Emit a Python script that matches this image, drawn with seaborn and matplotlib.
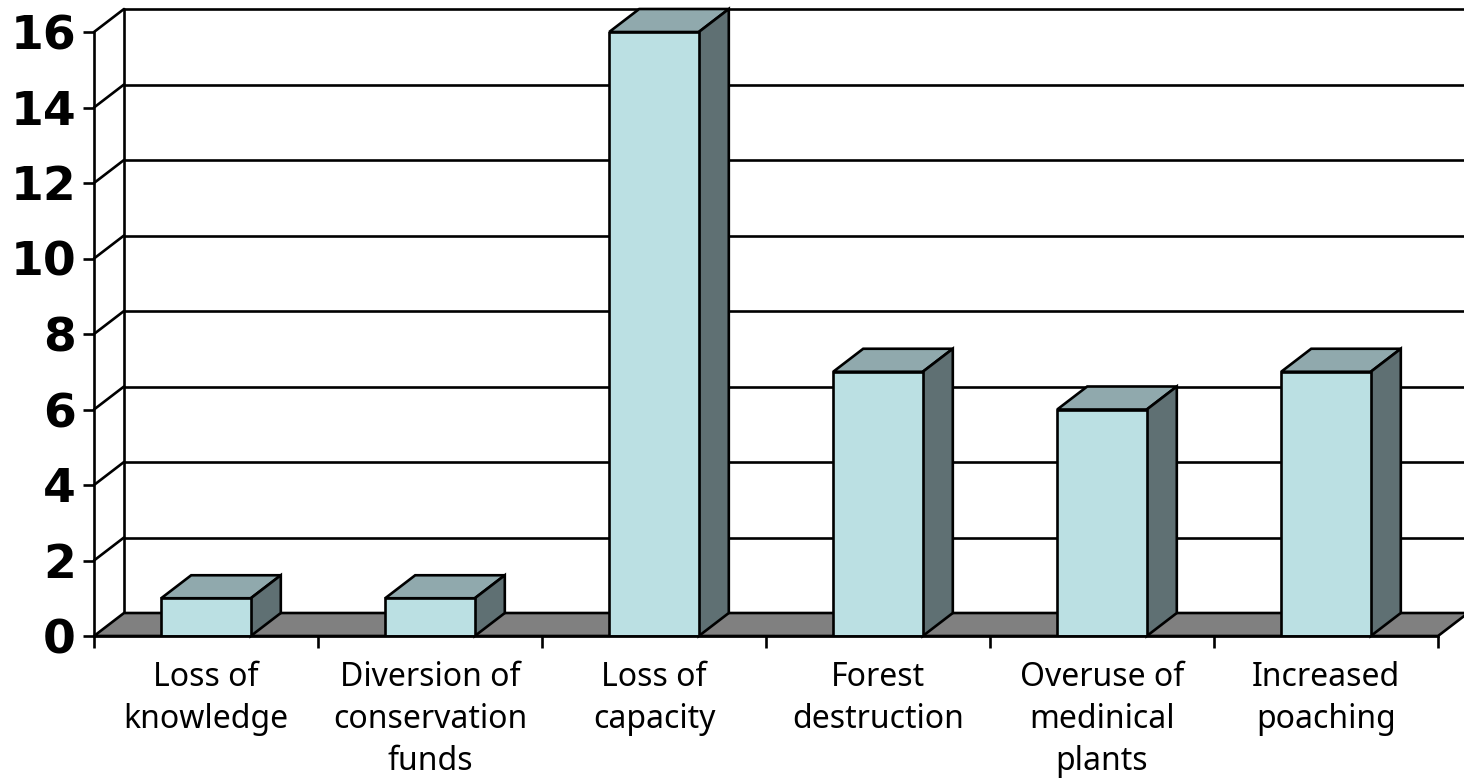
# %% Import Modules
import matplotlib
matplotlib.use('Agg')
import matplotlib.pyplot as plt
from matplotlib.patches import Polygon
import seaborn as sns
import numpy as np

# %% Data
categories = ['Loss of\nknowledge', 'Diversion of\nconservation\nfunds', 'Loss of\ncapacity',
              'Forest\ndestruction', 'Overuse of\nmedinical\nplants', 'Increased\npoaching']
values = [1, 1, 16, 7, 6, 7]
y_ticks = [0, 2, 4, 6, 8, 10, 12, 14, 16]

# %% Style
sns.set_style('white')
plt.rcParams['font.family'] = ['DejaVu Sans']
plt.rcParams['text.color'] = 'black'
plt.rcParams['xtick.color'] = 'black'
plt.rcParams['ytick.color'] = 'black'

FRONT = '#BBE0E3'
TOP = '#90A9AD'
SIDE = '#5F7073'
FLOOR = '#808080'
LW = 1.9
# fake 3D offset, in data units (30 px right, 23 px up)
DX = 30 / 224
DY = 23 / 37.75

W, H = 1464, 778
fig = plt.figure(figsize=(W / 100, H / 100), dpi=100)
ax = fig.add_axes([94 / W, 1 - 636 / H, (1438 - 94) / W, (636 - 32) / H])

# %% Front faces
sns.barplot(x=categories, y=values, color=FRONT, saturation=1, width=0.4,
            edgecolor='black', linewidth=LW, zorder=5, ax=ax)
ax.set_xlim(-0.5, len(categories) - 0.5)
ax.set_ylim(0, 16)
x0, x1 = ax.get_xlim()

# %% Floor, back wall and gridlines
ax.add_patch(Polygon([(x0, 0), (x1, 0), (x1 + DX, DY), (x0 + DX, DY)], closed=True,
                     facecolor=FLOOR, edgecolor='black', linewidth=LW, clip_on=False, zorder=2))
ax.plot([x0 + DX, x0 + DX], [DY, 16 + DY], color='black', lw=LW, clip_on=False, zorder=1)
for v in y_ticks[1:]:
    ax.plot([x0 + DX, x1 + DX], [v + DY, v + DY], color='black', lw=LW, clip_on=False, zorder=1)
    ax.plot([x0, x0 + DX], [v, v + DY], color='black', lw=LW, clip_on=False, zorder=1)

# %% Top and side faces of each bar
for bar in ax.patches[:len(values)]:
    l, w, h = bar.get_x(), bar.get_width(), bar.get_height()
    r = l + w
    ax.add_patch(Polygon([(l, h), (r, h), (r + DX, h + DY), (l + DX, h + DY)], closed=True,
                         facecolor=TOP, edgecolor='black', linewidth=LW, clip_on=False, zorder=4))
    ax.add_patch(Polygon([(r, 0), (r + DX, DY), (r + DX, h + DY), (r, h)], closed=True,
                         facecolor=SIDE, edgecolor='black', linewidth=LW, clip_on=False, zorder=4))

# %% Axes
sns.despine(ax=ax, top=True, right=True)
for s in ['left', 'bottom']:
    ax.spines[s].set_linewidth(LW)
    ax.spines[s].set_color('black')
    ax.spines[s].set_zorder(6)

ax.set_yticks(y_ticks)
ax.set_yticklabels([str(v) for v in y_ticks], fontsize=34, fontweight='bold', color='black')
ax.tick_params(axis='y', which='major', left=True, length=8, width=LW, pad=5, color='black')

# separators as major ticks, labels sit on minor ticks at the bar centres
ax.set_xticks(np.arange(len(categories) + 1) - 0.5)
ax.set_xticklabels([])
ax.set_xticks(np.arange(len(categories)), minor=True)
ax.set_xticklabels(categories, minor=True, fontsize=23, family='Noto Sans', linespacing=1.36, color='black')
ax.tick_params(axis='x', which='major', bottom=True, length=8.5, width=LW, color='black')
ax.tick_params(axis='x', which='minor', bottom=False, length=0, pad=18)
ax.set_xlabel('')
ax.set_ylabel('')

fig.savefig('out.png', dpi=100)
